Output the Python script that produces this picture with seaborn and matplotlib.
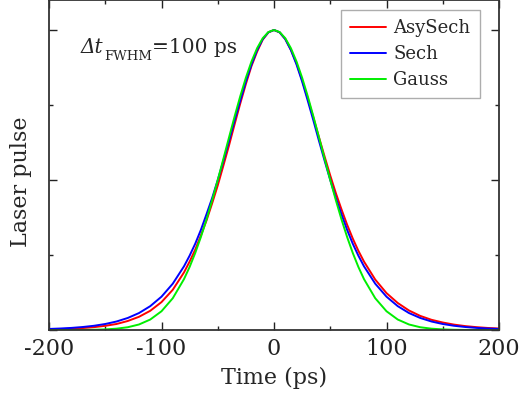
import numpy as np
import pandas as pd
import matplotlib
matplotlib.use("Agg")
import matplotlib.pyplot as plt
from matplotlib.ticker import MultipleLocator
import seaborn as sns

# time axis (ps): 10 ps steps in the wings, 5 ps steps around the peak
time_ps = ([-200, -190, -180, -170, -160, -150, -140, -130, -120, -110, -100, -90, -80]
           + [-75, -70, -65, -60, -55, -50, -45, -40, -35, -30, -25, -20, -15, -10, -5,
              0, 5, 10, 15, 20, 25, 30, 35, 40, 45, 50, 55, 60, 65, 70, 75]
           + [80, 90, 100, 110, 120, 130, 140, 150, 160, 170, 180, 190, 200])

asysech = ([0.0020, 0.0030, 0.0044, 0.0065, 0.0095, 0.014, 0.020, 0.030, 0.044, 0.064, 0.093, 0.134, 0.192]
           + [0.228, 0.268, 0.315, 0.365, 0.422, 0.482, 0.548, 0.615, 0.686, 0.755, 0.820, 0.880, 0.928, 0.968, 0.992,
              1.0, 0.992, 0.970, 0.934, 0.889, 0.833, 0.772, 0.708, 0.642, 0.578, 0.515, 0.456, 0.402, 0.351, 0.305, 0.264]
           + [0.228, 0.168, 0.123, 0.090, 0.065, 0.047, 0.034, 0.025, 0.018, 0.013, 0.0095, 0.0068, 0.0050])

sech = ([0.0035, 0.0050, 0.0070, 0.0100, 0.0141, 0.0200, 0.0283, 0.0401, 0.0565, 0.0795, 0.1111, 0.1543, 0.2123]
        + [0.2478, 0.2878, 0.3336, 0.3857, 0.4398, 0.5000, 0.5641, 0.6302, 0.6986, 0.7645, 0.8284, 0.8852, 0.9332, 0.9696, 0.9923,
           1.0, 0.9923, 0.9696, 0.9332, 0.8852, 0.8284, 0.7645, 0.6986, 0.6302, 0.5641, 0.5000, 0.4398, 0.3857, 0.3336, 0.2878, 0.2478]
        + [0.2123, 0.1543, 0.1111, 0.0795, 0.0565, 0.0401, 0.0283, 0.0200, 0.0141, 0.0100, 0.0070, 0.0050, 0.0035])

gauss = ([0.0, 0.0, 0.0001, 0.0003, 0.0008, 0.0020, 0.0044, 0.0092, 0.0184, 0.0349, 0.0625, 0.1058, 0.1696]
         + [0.2102, 0.2570, 0.3099, 0.3685, 0.4323, 0.5000, 0.5704, 0.6417, 0.7120, 0.7792, 0.8409, 0.8950, 0.9395, 0.9727, 0.9931,
            1.0, 0.9931, 0.9727, 0.9395, 0.8950, 0.8409, 0.7792, 0.7120, 0.6417, 0.5704, 0.5000, 0.4323, 0.3685, 0.3099, 0.2570, 0.2102]
         + [0.1696, 0.1058, 0.0625, 0.0349, 0.0184, 0.0092, 0.0044, 0.0020, 0.0008, 0.0003, 0.0001, 0.0, 0.0])

series_names = ["AsySech", "Sech", "Gauss"]
series_colors = ["#ff0000", "#0000ff", "#00ee00"]

df = pd.concat([
    pd.DataFrame({"t": time_ps, "y": vals, "pulse": name})
    for name, vals in zip(series_names, [asysech, sech, gauss])
])

sns.set_style("ticks")
plt.rcParams["font.family"] = ["DejaVu Serif"]
plt.rcParams["axes.unicode_minus"] = False

fig = plt.figure(figsize=(5.19, 4.0), dpi=100)
ax = fig.add_axes([49 / 519, 70 / 400, 450 / 519, 330 / 400])

sns.lineplot(data=df, x="t", y="y", hue="pulse", hue_order=series_names,
             palette=series_colors, linewidth=1.4, ax=ax, legend=False)

ax.set_xlim(-200, 200)
ax.set_ylim(0, 1.1)
ax.xaxis.set_major_locator(MultipleLocator(100))
ax.xaxis.set_minor_locator(MultipleLocator(50))
ax.yaxis.set_major_locator(MultipleLocator(0.5))
ax.yaxis.set_minor_locator(MultipleLocator(0.25))
ax.tick_params(which="both", direction="in", top=True, right=True, colors="#222222")
ax.tick_params(which="major", length=6, width=1.0)
ax.tick_params(which="minor", length=3, width=1.0)
ax.tick_params(axis="x", labelsize=16, pad=6)
ax.set_yticklabels([])
for s in ax.spines.values():
    s.set_linewidth(1.3)
    s.set_color("#333333")

ax.set_xlabel("Time (ps)", fontsize=16, labelpad=5)
ax.set_ylabel("Laser pulse", fontsize=16)
ax.yaxis.set_label_coords(-0.038, 0.45)

# "Δt" in italics, small "FWHM" subscript, then "=100 ps"
ann_x, ann_y = -172, 0.924
dt_text = ax.text(ann_x, ann_y, "Δt", style="italic", fontsize=14.5, va="baseline", ha="left")
fig.canvas.draw()
w1 = dt_text.get_window_extent().width * 72 / fig.dpi
sub = ax.annotate("FWHM", xy=(ann_x, ann_y), xytext=(w1 + 0.5, -5.5), textcoords="offset points",
                  fontsize=9.5, va="baseline", ha="left")
fig.canvas.draw()
w2 = sub.get_window_extent().width * 72 / fig.dpi
ax.annotate("=100 ps", xy=(ann_x, ann_y), xytext=(w1 + w2 + 0.5, 0), textcoords="offset points",
            fontsize=14.5, va="baseline", ha="left")

handles = [plt.Line2D([], [], color=c, lw=1.4) for c in series_colors]
leg = ax.legend(handles, series_names, loc="upper right", bbox_to_anchor=(0.957, 0.97),
                borderaxespad=0, fontsize=13, frameon=True, fancybox=False,
                handlelength=2.0, handletextpad=0.4, labelspacing=0.45,
                borderpad=0.5)
leg.get_frame().set_edgecolor("#999999")
leg.get_frame().set_linewidth(1.0)

fig.savefig("out.png", dpi=100)
